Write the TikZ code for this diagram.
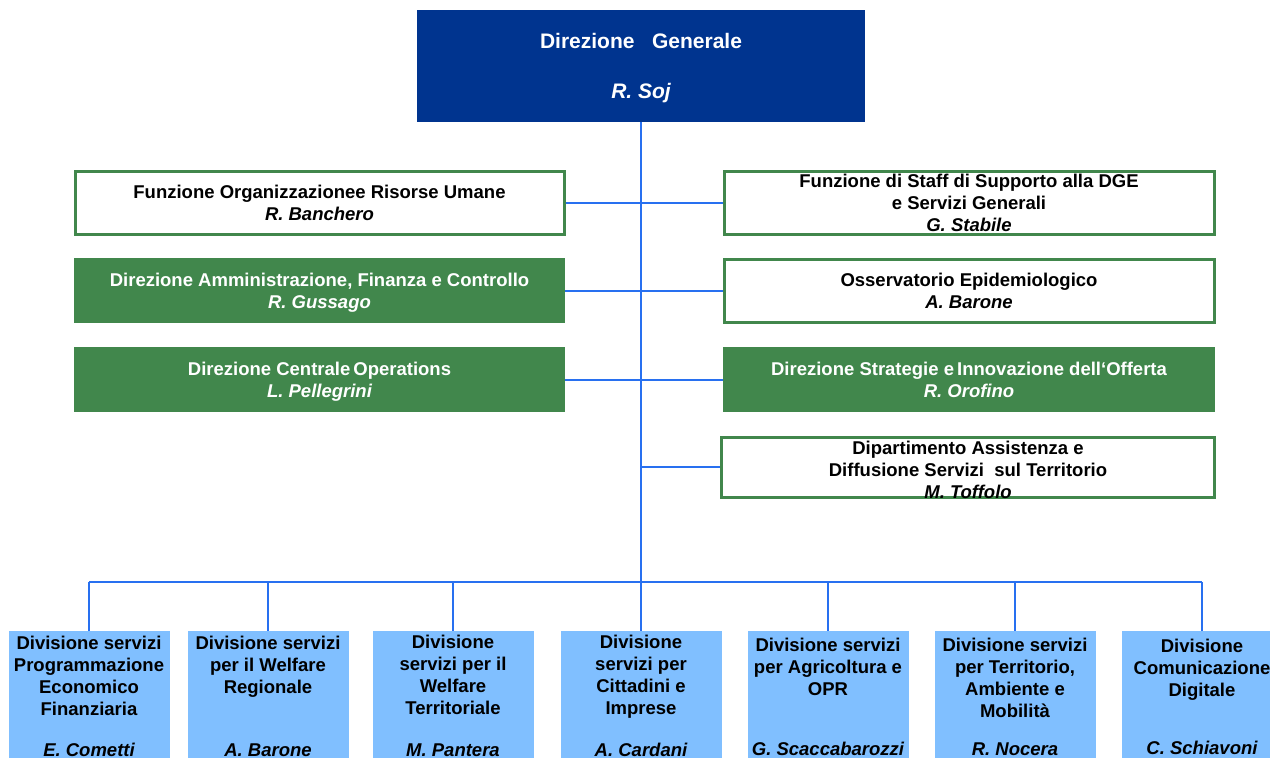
\documentclass[tikz,border=0pt]{standalone}
\usepackage{fontspec}
\setmainfont{Liberation Sans}
\usetikzlibrary{backgrounds}
\definecolor{dgblue}{RGB}{0,52,143}
\definecolor{boxgreen}{RGB}{65,135,76}
\definecolor{divblue}{RGB}{128,191,255}
\definecolor{connblue}{RGB}{40,112,240}
\newcommand\orgfs{\fontsize{18.5}{21.8}\selectfont\bfseries}
\newcommand\dgfs{\fontsize{21}{24}\selectfont\bfseries}
\tikzset{
  conn/.style={draw=connblue, line width=2pt},
  topbox/.style={rectangle, inner sep=0pt, outer sep=0pt, align=center, font=\orgfs, minimum height=65pt, anchor=north west, text depth=0pt},
  wbox/.style={topbox, draw=boxgreen, line width=3pt, fill=white, text=black},
  gbox/.style={topbox, fill=boxgreen, text=white},
  dgbox/.style={rectangle, inner sep=0pt, outer sep=0pt, align=center, font=\dgfs, fill=dgblue, text=white, minimum width=448pt, minimum height=112pt, text depth=0pt},
  divbox/.style={rectangle, inner sep=0pt, outer sep=0pt, fill=divblue, minimum width=161pt, minimum height=140pt, anchor=north},
  divtext/.style={align=center, font=\orgfs, anchor=north, inner sep=0pt, text=black},
  divname/.style={font=\orgfs\itshape, inner sep=0pt, text=black},
}
\begin{document}
\begin{tikzpicture}[x=1pt,y=-1pt]
\useasboundingbox (0,0) rectangle (1270,758);
\begin{scope}[on background layer]
\fill[white] (0,0) rectangle (1270,758);
\end{scope}

% top
\node[dgbox] (dg) at (641,66) {Direzione\ \ \ Generale\\[26pt]\itshape R. Soj};

% left column
\node[wbox, minimum width=489pt, minimum height=63pt] (l1) at (75,171) {Funzione Organizzazionee Risorse Umane\\\itshape R. Banchero};
\node[gbox, minimum width=491pt] (l2) at (74,258) {Direzione Amministrazione, Finanza e Controllo\\\itshape R. Gussago};
\node[gbox, minimum width=491pt] (l3) at (74,347) {Direzione Centrale\,Operations\\\itshape L. Pellegrini};

% right column
\node[wbox, minimum width=490pt, minimum height=63pt] (r1) at (724,171) {Funzione di Staff di Supporto alla DGE\\e Servizi Generali\\\itshape G. Stabile};
\node[wbox, minimum width=490pt, minimum height=63pt] (r2) at (724,259) {Osservatorio Epidemiologico\\\itshape A. Barone};
\node[gbox, minimum width=492pt] (r3) at (723,347) {Direzione Strategie e\,Innovazione dell‘Offerta\\\itshape R. Orofino};
\node[wbox, minimum width=493pt, minimum height=60pt] (r4) at (721,437) {};
\node[align=center, font=\orgfs, inner sep=0pt, text=black, anchor=north] (r4t) at (968,441) {Dipartimento Assistenza e\\Diffusione Servizi\ \ sul Territorio\\\itshape M. Toffolo};

% bottom divisions
\node[divbox] (d1) at (89,631) {};
\node[divbox] (d2) at (268,631) {};
\node[divbox] (d3) at (453,631) {};
\node[divbox] (d4) at (641,631) {};
\node[divbox] (d5) at (828,631) {};
\node[divbox] (d6) at (1015,631) {};
\node[divbox] (d7) at (1202,631) {};

\node[divtext] (d1t) at (89,636) {Divisione servizi\\Programmazione\\Economico\\Finanziaria};
\node[divtext] (d2t) at (268,636) {Divisione servizi\\per il Welfare\\Regionale};
\node[divtext] (d3t) at (453,635) {Divisione\\servizi per il\\Welfare\\Territoriale};
\node[divtext] (d4t) at (641,635) {Divisione\\servizi per\\Cittadini e\\Imprese};
\node[divtext] (d5t) at (828,638) {Divisione servizi\\per Agricoltura e\\OPR};
\node[divtext] (d6t) at (1015,638) {Divisione servizi\\per Territorio,\\Ambiente e\\Mobilità};
\node[divtext] (d7t) at (1202,639) {Divisione\\Comunicazione\\Digitale};

\node[divname] (d1n) at (89,750) {E. Cometti};
\node[divname] (d2n) at (268,750) {A. Barone};
\node[divname] (d3n) at (453,750) {M. Pantera};
\node[divname] (d4n) at (641,750) {A. Cardani};
\node[divname] (d5n) at (828,749) {G. Scaccabarozzi};
\node[divname] (d6n) at (1015,749) {R. Nocera};
\node[divname] (d7n) at (1202,748) {C. Schiavoni};

% connectors
\coordinate (bus1) at (89,582);
\coordinate (bus2) at (268,582);
\coordinate (bus3) at (453,582);
\coordinate (bus4) at (641,582);
\coordinate (bus5) at (828,582);
\coordinate (bus6) at (1015,582);
\coordinate (bus7) at (1202,582);
\coordinate (v4) at (641,467);
\begin{scope}[on background layer]
\draw[conn] (dg.south) -- (bus4);
\draw[conn] (l1.east) -- (r1.west);
\draw[conn] (l2.east) -- (r2.west);
\draw[conn] (l3.east) -- (r3.west);
\draw[conn] (v4) -- (r4.west);
\draw[conn] (bus1) -- (bus7);
\draw[conn] (bus1) -- (d1.north);
\draw[conn] (bus2) -- (d2.north);
\draw[conn] (bus3) -- (d3.north);
\draw[conn] (bus4) -- (d4.north);
\draw[conn] (bus5) -- (d5.north);
\draw[conn] (bus6) -- (d6.north);
\draw[conn] (bus7) -- (d7.north);
\end{scope}
\end{tikzpicture}
\end{document}
